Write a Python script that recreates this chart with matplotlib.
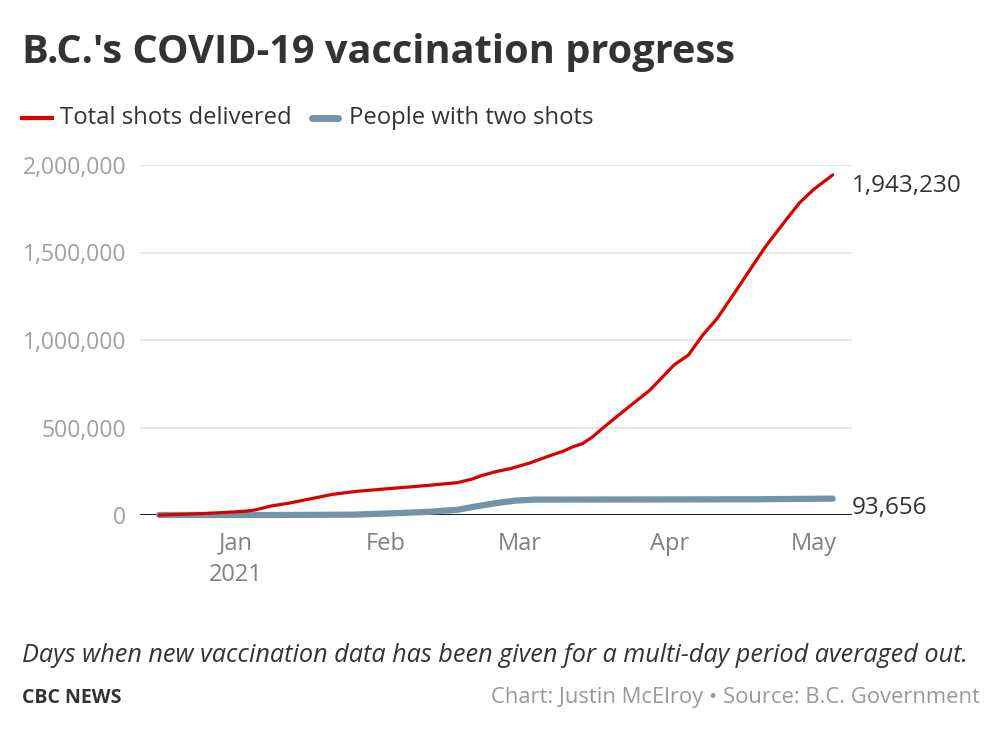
import matplotlib
matplotlib.use("Agg")
import matplotlib.pyplot as plt
from matplotlib.ticker import FuncFormatter
from datetime import datetime

plt.rcParams['font.family'] = ['Open Sans', 'DejaVu Sans']

# total shots delivered
total_dates = ["2020-12-16", "2020-12-20", "2020-12-25", "2020-12-30", "2021-01-03",
               "2021-01-05", "2021-01-08", "2021-01-12", "2021-01-16", "2021-01-21",
               "2021-01-26", "2021-02-01", "2021-02-06", "2021-02-11", "2021-02-16",
               "2021-02-19", "2021-02-21", "2021-02-24", "2021-02-27", "2021-03-03",
               "2021-03-07", "2021-03-10", "2021-03-12", "2021-03-14", "2021-03-16",
               "2021-03-18", "2021-03-21", "2021-03-25", "2021-03-28", "2021-04-02",
               "2021-04-05", "2021-04-08", "2021-04-11", "2021-04-15", "2021-04-18",
               "2021-04-21", "2021-04-25", "2021-04-28", "2021-05-01", "2021-05-05"]
total_shots = [0, 3000, 8000, 15000, 22000,
               29000, 50000, 68000, 90000, 118000,
               135000, 149000, 160000, 172000, 185000,
               205000, 225000, 248000, 265000, 297000,
               337000, 365000, 390000, 408000, 445000,
               492000, 560000, 648000, 714000, 857000,
               914000, 1029000, 1124000, 1286000, 1410000,
               1533000, 1676000, 1781000, 1860000, 1943230]

# people with two shots
two_dates = ["2020-12-16", "2021-01-10", "2021-01-25", "2021-02-01", "2021-02-10",
             "2021-02-16", "2021-02-20", "2021-02-24", "2021-02-28", "2021-03-04",
             "2021-03-15", "2021-04-01", "2021-04-20", "2021-05-05"]
two_shots = [0, 0, 2000, 8000, 18000,
             30000, 50000, 68000, 82000, 88000,
             88500, 88800, 90000, 93656]

y_ticks = [0, 500000, 1000000, 1500000, 2000000]
x_ticks = ["2021-01-01", "2021-02-01", "2021-03-01", "2021-04-01", "2021-05-01"]
x_labels = ["Jan\n2021", "Feb", "Mar", "Apr", "May"]

red = "#d90000"
blue = "#7393a7"
dark = "#333333"

to_dt = lambda lst: [datetime.strptime(s, "%Y-%m-%d") for s in lst]

fig = plt.figure(figsize=(10, 7.4), dpi=100)
ax = fig.add_axes([0.14, 1 - 515 / 740, 0.712, 350 / 740])

ax.plot(to_dt(two_dates), two_shots, color=blue, lw=4.5, solid_capstyle='round', clip_on=False, zorder=3)
ax.plot(to_dt(total_dates), total_shots, color=red, lw=2.3, solid_capstyle='round',
        solid_joinstyle='round', clip_on=False, zorder=4)

ax.set_ylim(0, 2000000)
ax.set_xlim(datetime(2020, 12, 12), datetime(2021, 5, 9))
ax.set_yticks(y_ticks)
ax.yaxis.set_major_formatter(FuncFormatter(lambda v, p: f"{int(v):,}"))
ax.set_xticks(to_dt(x_ticks))
ax.set_xticklabels(x_labels, linespacing=1.4)
for s in ax.spines.values():
    s.set_visible(False)
ax.grid(axis='y', color='#e3e3e3', lw=1.2)
ax.set_axisbelow(True)
ax.axhline(0, color='#222222', lw=1.5, zorder=2)
ax.tick_params(axis='y', length=0, pad=10, labelsize=16.5, labelcolor='#a0a0a0')
ax.tick_params(axis='x', length=0, pad=12, labelsize=17, labelcolor='#808080')

# end labels
ax.annotate(f"{total_shots[-1]:,}", xy=(to_dt(total_dates)[-1], total_shots[-1]),
            xytext=(14, -8), textcoords='offset points', fontsize=17.5, color=dark, va='center')
ax.annotate(f"{two_shots[-1]:,}", xy=(to_dt(two_dates)[-1], two_shots[-1]),
            xytext=(14, -7), textcoords='offset points', fontsize=17.5, color=dark, va='center')

# title and legend
fig.text(0.022, 1 - 63 / 740, "B.C.'s COVID-19 vaccination progress", fontsize=28.6,
         fontweight='bold', color=dark, va='baseline')
ly = 1 - 118 / 740
fig.add_artist(plt.Line2D([0.022, 0.052], [ly, ly], color=red, lw=3, transform=fig.transFigure))
fig.text(0.060, ly, "Total shots delivered", fontsize=17.2, color=dark, va='center')
fig.add_artist(plt.Line2D([0.312, 0.338], [ly, ly], color=blue, lw=5, solid_capstyle='round',
                          transform=fig.transFigure))
fig.text(0.349, ly, "People with two shots", fontsize=17.2, color=dark, va='center')

# footer
fig.text(0.022, 1 - 656 / 740, "Days when new vaccination data has been given for a multi-day period averaged out.",
         fontsize=18.2, style='italic', color=dark, va='center')
fig.text(0.022, 1 - 698 / 740, "CBC NEWS", fontsize=14, fontweight='bold', color=dark, va='center')
fig.text(0.980, 1 - 698 / 740, "Chart: Justin McElroy \u2022 Source: B.C. Government", fontsize=15.8,
         color='#999999', va='center', ha='right')

fig.savefig("out.png", dpi=100, facecolor='white')
